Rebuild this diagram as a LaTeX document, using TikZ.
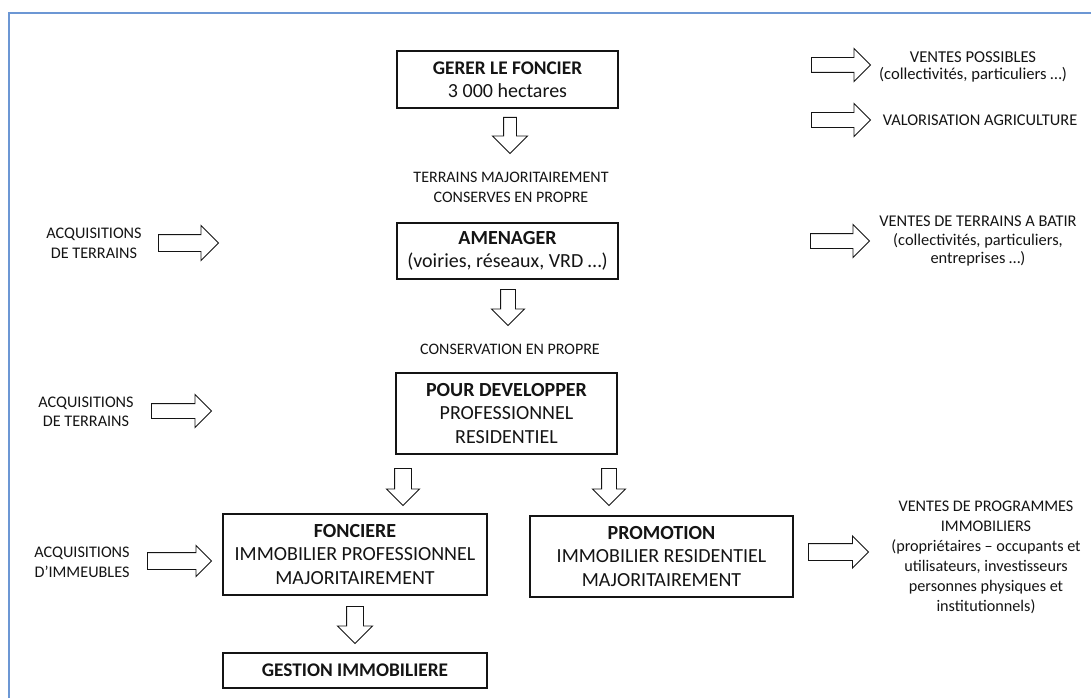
\documentclass[tikz,border=0pt]{standalone}
\usepackage{fontspec}
\setmainfont{Carlito}
\usetikzlibrary{shapes.arrows}
\definecolor{framecol}{RGB}{108,151,212}
\definecolor{inkcol}{RGB}{20,20,20}
\begin{document}
\begin{tikzpicture}[x=1pt,y=-1pt,
  box/.style={draw=inkcol, line width=1.1pt, fill=white, inner sep=0pt, align=center, text=inkcol,
    font=\fontsize{20}{23.5}\selectfont},
  lbl/.style={inner sep=0pt, align=center, text=inkcol, font=\fontsize{16.4}{19.5}\selectfont},
  barrow/.style={shape=single arrow, draw=inkcol, fill=white, line width=0.9pt, inner xsep=0pt, inner ysep=7pt,
    single arrow tip angle=90, single arrow head extend=9pt, anchor=tail},
  downarrow/.style={barrow, rotate=-90},
]
\useasboundingbox (0,0) rectangle (1091,698);
\draw[framecol, line width=1.6pt] (9,698) -- (9,13) -- (1091,13);

% boxes
\node[box, minimum width=221pt, minimum height=57pt] (gerer) at (507.5,79.5)
  {\fontsize{19.3}{23.5}\selectfont\textbf{GERER LE FONCIER}\\3 000 hectares};
\node[box, minimum width=221pt, minimum height=56pt] (amen) at (507.5,251)
  {\textbf{AMENAGER}\\(voiries, réseaux, VRD …)};
\node[box, minimum width=221pt, minimum height=81pt] (dev) at (506.5,413.5)
  {\textbf{POUR DEVELOPPER}\\PROFESSIONNEL\\RESIDENTIEL};
\node[box, minimum width=264pt, minimum height=81pt] (fon) at (355,554.5)
  {\textbf{FONCIERE}\\IMMOBILIER PROFESSIONNEL\\MAJORITAIREMENT};
\node[box, minimum width=263pt, minimum height=81pt] (pro) at (661.5,556.5)
  {\textbf{PROMOTION}\\IMMOBILIER RESIDENTIEL\\MAJORITAIREMENT};
\node[box, minimum width=264pt, minimum height=35pt] (ges) at (355,670.5)
  {\fontsize{19.3}{23.5}\selectfont\textbf{GESTION IMMOBILIERE}};

% labels
\node[lbl, font=\fontsize{16}{20}\selectfont] (tmaj) at (511,187) {TERRAINS MAJORITAIREMENT\\CONSERVES EN PROPRE};
\node[lbl, font=\fontsize{16}{20}\selectfont] (tcons) at (510,349) {CONSERVATION EN PROPRE};
\node[lbl, font=\fontsize{16.6}{17.5}\selectfont] (vposs) at (973,67) {VENTES POSSIBLES\\(collectivités, particuliers …)};
\node[lbl] (valo) at (980,120) {VALORISATION AGRICULTURE};
\node[lbl, font=\fontsize{16.4}{18.5}\selectfont] (vterr) at (978,241)
  {VENTES DE TERRAINS A BATIR\\(collectivités, particuliers,\\entreprises …)};
\node[lbl, font=\fontsize{16.2}{20}\selectfont] (vprog) at (986,557)
  {VENTES DE PROGRAMMES\\IMMOBILIERS\\(propriétaires – occupants et\\utilisateurs, investisseurs\\personnes physiques et\\institutionnels)};
\node[lbl, font=\fontsize{16.2}{20}\selectfont] (acq1) at (94,243) {ACQUISITIONS\\DE TERRAINS};
\node[lbl, font=\fontsize{16.2}{19}\selectfont] (acq2) at (86,411.5) {ACQUISITIONS\\DE TERRAINS};
\node[lbl, font=\fontsize{16.2}{20}\selectfont] (acq3) at (82,562) {ACQUISITIONS\\D’IMMEUBLES};

% block arrows
\node[downarrow, minimum height=36pt, inner ysep=6pt, single arrow head extend=11pt] (d1) at (510,117) {};
\node[downarrow, minimum height=36pt] (d2) at (508,289) {};
\node[downarrow, minimum height=37pt, inner ysep=8pt, single arrow head extend=8pt] (d3) at (403,468) {};
\node[downarrow, minimum height=37pt] (d4) at (609,468) {};
\node[downarrow, minimum height=37pt, inner ysep=8pt] (d5) at (355,606) {};
\node[barrow, minimum height=59pt] (r1) at (811,65) {};
\node[barrow, minimum height=59pt] (r2) at (811,120) {};
\node[barrow, minimum height=59pt] (r3) at (810,241) {};
\node[barrow, minimum height=60pt, inner ysep=8pt, single arrow head extend=7.5pt] (r4) at (808,552) {};
\node[barrow, minimum height=60pt, inner ysep=8pt] (l1) at (158,243) {};
\node[barrow, minimum height=60pt] (l2) at (151,411) {};
\node[barrow, minimum height=64pt, inner ysep=8pt, single arrow head extend=7pt] (l3) at (147,561) {};
\end{tikzpicture}
\end{document}
